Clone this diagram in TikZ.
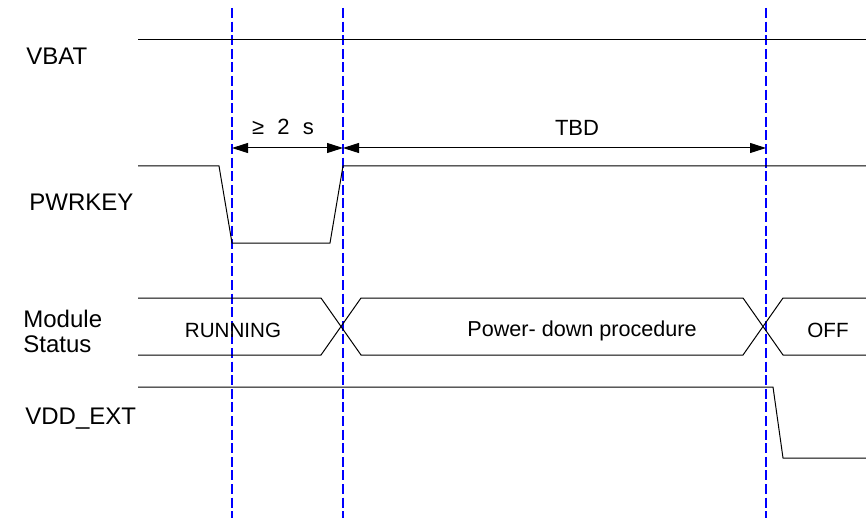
\documentclass[tikz,border=0pt]{standalone}
\usepackage{fontspec}
\setmainfont{Liberation Sans}
\usetikzlibrary{positioning, arrows.meta, calc}

\begin{document}
\begin{tikzpicture}[x=0.5pt, y=-0.5pt,
    signal/.style={draw=black, line width=0.5pt},
    marker/.style={draw=blue, line width=1pt, dash pattern=on 5pt off 1.8pt},
    span/.style={draw=black, line width=0.5pt, {Triangle[length=8pt,width=5pt]}-{Triangle[length=8pt,width=5pt]}},
    siglabel/.style={anchor=base west, inner sep=0pt, font=\fontsize{12}{14}\selectfont},
    statetext/.style={anchor=base, inner sep=0pt, font=\fontsize{10.3}{12}\selectfont},
    spantext/.style={anchor=base, inner sep=0pt, font=\fontsize{11}{13}\selectfont}
]
\useasboundingbox (0,0) rectangle (866,518);

% blue time markers
\foreach \name/\xpos in {ma/232, mb/343, mc/766} {
  \coordinate (\name-top) at (\xpos,8);
  \coordinate (\name-bot) at (\xpos,518);
  \coordinate (\name-arrow) at (\xpos,148);
  \draw[marker] (\name-top) -- (\name-bot);
}

% signal names
\node[siglabel](vbatlbl) at (26,65){VBAT};
\node[siglabel](pwrlbl) at (29,211){PWRKEY};
\node[siglabel](modlbl) at (23,327){Module};
\node[siglabel](statlbl) at (23,352){Status};
\node[siglabel](vddlbl) at (25,424){VDD\_EXT};

% waveforms
\draw[signal] (138,40) -- (866,40);
\draw[signal] (138,166) -- (219,166) -- (232,243) -- (330,243) -- (343,166) -- (866,166);
\draw[signal] (138,298) -- (321,298) -- (361,355) -- (743,355) -- (783,298) -- (866,298);
\draw[signal] (138,355) -- (321,355) -- (361,298) -- (743,298) -- (783,355) -- (866,355);
\draw[signal] (138,387) -- (773,387) -- (783,458) -- (866,458);

% states
\node[statetext](running) at (233,337){RUNNING};
\node[statetext, anchor=base west, font=\fontsize{10.8}{13}\selectfont](pdown) at (467,336){Power- down procedure};
\node[statetext](off) at (828,337){OFF};

% timing spans
\draw[span] (ma-arrow) -- (mb-arrow);
\draw[span] (mb-arrow) -- (mc-arrow);
\node[spantext](minhold) at (283,135){≥\hspace{0.6em}2\hspace{0.6em}s};
\node[spantext](tbd) at (577,136){TBD};
\end{tikzpicture}
\end{document}
